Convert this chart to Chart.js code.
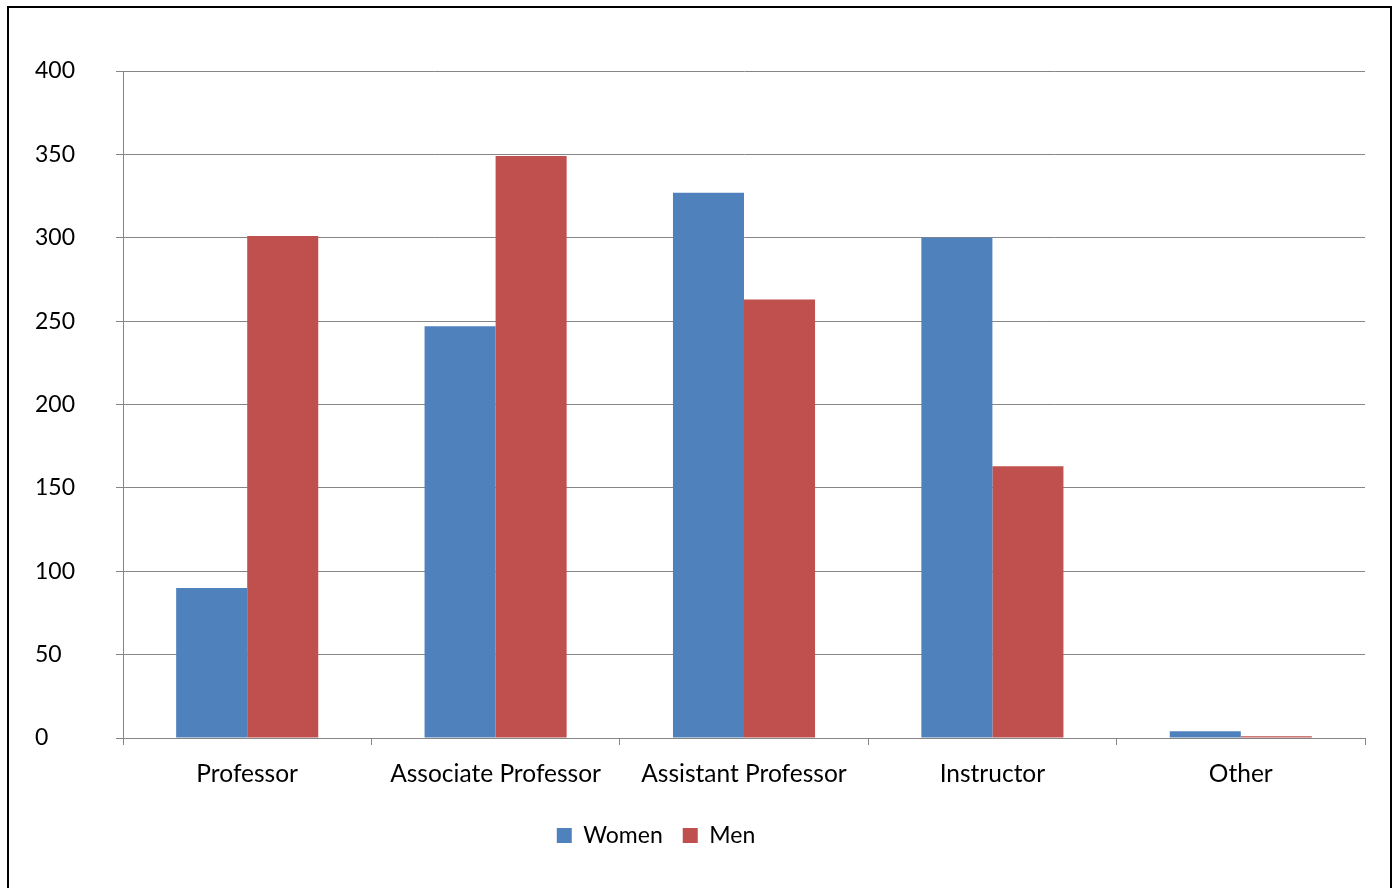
<!DOCTYPE html>
<html>
<head>
<meta charset="utf-8">
<script src="https://cdn.jsdelivr.net/npm/chart.js@4/dist/chart.umd.min.js"></script>
<style>
  body { margin: 0; overflow: hidden; background: #fff; }
  #frame { position: absolute; left: 7px; top: 6px; width: 1381px; height: 882px; border: 2px solid #000; }
</style>
</head>
<body>
<div id="frame"><canvas id="mycanvas" width="1381" height="882"></canvas></div>
<script>
var categories = ['Professor', 'Associate Professor', 'Assistant Professor', 'Instructor', 'Other'];
var women = [90, 247, 327, 300, 4];
var men = [301, 349, 263, 163, 1];
var yTicks = [0, 50, 100, 150, 200, 250, 300, 350, 400];

Chart.defaults.font.family = 'Lato, "Open Sans", sans-serif';
Chart.defaults.font.size = 24.5;
Chart.defaults.color = '#000';

// shift the legend left like the original
var legendShift = {
  id: 'legendShift',
  afterLayout: function(chart) {
    if (chart.legend) {
      chart.legend.left -= 44;
      chart.legend.right -= 44;
    }
  }
};

var ctx = document.getElementById('mycanvas');
var barGraph = new Chart(ctx, {
  type: 'bar',
  data: {
    labels: categories,
    datasets: [
      { label: 'Women', data: women, backgroundColor: '#4F81BD', categoryPercentage: 0.572, barPercentage: 1 },
      { label: 'Men', data: men, backgroundColor: '#C0504D', categoryPercentage: 0.572, barPercentage: 1 }
    ]
  },
  options: {
    responsive: false,
    animation: false,
    layout: { padding: { left: 26, right: 25, top: 63, bottom: 33 } },
    plugins: {
      tooltip: { enabled: false },
      legend: {
        position: 'bottom',
        labels: { boxWidth: 15, boxHeight: 15, padding: 20, font: { size: 23 } }
      }
    },
    scales: {
      x: {
        grid: { offset: true, drawOnChartArea: false, color: '#868686', tickLength: 7 },
        border: { color: '#868686' },
        ticks: { padding: 14 },
        afterFit: function(s) { s.height = 66; }
      },
      y: {
        min: 0,
        max: 400,
        afterBuildTicks: function(s) { s.ticks = yTicks.map(function(v) { return { value: v }; }); },
        grid: { color: '#868686', tickLength: 7 },
        border: { color: '#868686' },
        ticks: { crossAlign: 'far', font: { size: 23 } },
        afterFit: function(s) { s.width = 88; }
      }
    }
  },
  plugins: [legendShift]
});
</script>
</body>
</html>
